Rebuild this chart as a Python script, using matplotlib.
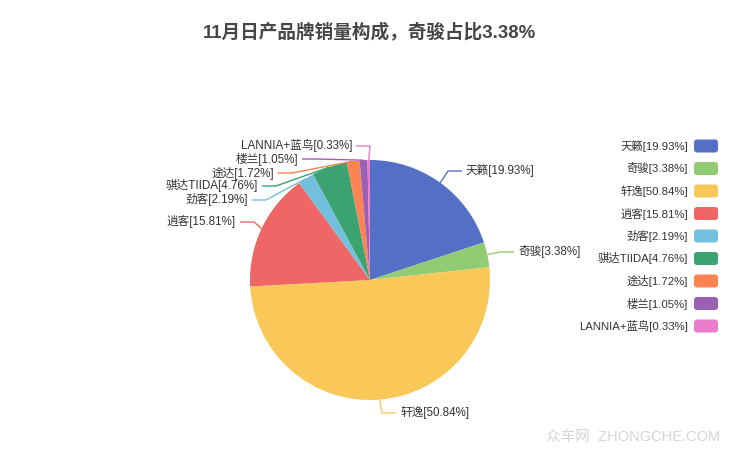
import numpy as np
import matplotlib
matplotlib.use("Agg")
import matplotlib.pyplot as plt
from matplotlib.patches import FancyBboxPatch

plt.rcParams['font.family'] = ['Liberation Sans', 'Noto Sans CJK SC', 'DejaVu Sans']

names = ["天籁", "奇骏", "轩逸", "逍客", "劲客", "骐达TIIDA", "途达", "楼兰", "LANNIA+蓝鸟"]
shares = [19.93, 3.38, 50.84, 15.81, 2.19, 4.76, 1.72, 1.05, 0.33]
colors = ["#5470c6", "#91cc75", "#fac858", "#ee6666", "#73c0de",
          "#3ba272", "#fc8452", "#9a60b4", "#ea7ccc"]
title = "11月日产品牌销量构成，奇骏占比3.38%"

# label layout (pixel positions of the label line end)
label_end_x = [462, 514, 396, 240, 252, 262, 278, 302, 356]
label_y = [171, 252, 413, 222, 200, 186, 173, 159, 146]

W, H = 740, 455
cx, cy, r = 370, 280, 120

fig = plt.figure(figsize=(W / 100, H / 100), dpi=100)
ax = fig.add_axes([0, 0, 1, 1])

def Y(y):
    return H - y

ax.pie(shares, colors=colors, center=(cx, Y(cy)), radius=r, startangle=90,
       counterclock=False, wedgeprops=dict(linewidth=0))

labels = ["%s[%.2f%%]" % (n, s) for n, s in zip(names, shares)]
cum = np.cumsum(shares) - np.array(shares) / 2
total = sum(shares)
for i, lab in enumerate(labels):
    th = np.deg2rad(cum[i] / total * 360)
    ex, ey = cx + r * np.sin(th), cy - r * np.cos(th)
    right = i < 3
    ly = label_y[i]
    endx = label_end_x[i]
    elbx = endx - 14 if right else endx + 14
    ax.plot([ex, elbx, endx], [Y(ey), Y(ly), Y(ly)], color=colors[i], lw=1,
            solid_capstyle='butt')
    if right:
        ax.text(endx + 4, Y(ly), lab, ha='left', va='center', fontsize=8.4, color='#333333')
    else:
        ax.text(endx - 4, Y(ly), lab, ha='right', va='center', fontsize=8.4, color='#333333')

# legend
for i, lab in enumerate(labels):
    ly = 146 + i * 22.5
    box = FancyBboxPatch((694, Y(ly) - 6.5), 24, 13, boxstyle="round,pad=0,rounding_size=3",
                         facecolor=colors[i], edgecolor='none')
    ax.add_patch(box)
    ax.text(688, Y(ly), lab, ha='right', va='center', fontsize=8.2, color='#333333')

ax.text(370, Y(32), title, ha='center', va='center', fontsize=13.4, fontweight='bold',
        color='#464646')
ax.text(720, Y(437), "众车网  ZHONGCHE.COM", ha='right', va='center', fontsize=10.5,
        color='#d5d5d5')

ax.set_xlim(0, W)
ax.set_ylim(0, H)
ax.set_aspect('equal')
ax.axis('off')
fig.savefig("out.png", dpi=100)
